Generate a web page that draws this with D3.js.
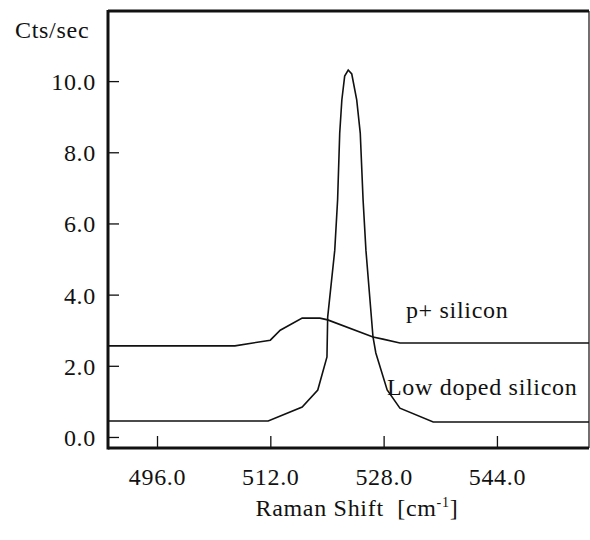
<!DOCTYPE html>
<html>
<head>
<meta charset="utf-8">
<script src="https://cdn.jsdelivr.net/npm/d3@7"></script>
<style>
  body { margin: 0; background: #fff; }
</style>
</head>
<body>
<svg class="rs-chart"></svg>
<script>
// raman spectra, two samples
const lowDopedShift = [489.1, 511.7, 516.5, 518.7, 520.0, 520.1, 521.1, 521.5, 521.8, 522.1, 522.5, 523.0, 523.5, 524.2, 524.7, 525.1, 525.5, 526.5, 526.9, 528.5, 530.3, 535.0, 557.0];
const lowDopedCts   = [0.45, 0.45, 0.84, 1.32, 2.25, 3.37, 5.25, 6.66, 8.54, 9.47, 10.14, 10.31, 10.2, 9.47, 8.54, 6.66, 5.25, 2.81, 2.36, 1.32, 0.81, 0.42, 0.42];

const pPlusShift = [489.1, 507.0, 512.0, 513.4, 516.5, 519.0, 520.1, 526.5, 527.9, 530.3, 557.0];
const pPlusCts   = [2.56, 2.56, 2.72, 3.0, 3.34, 3.34, 3.29, 2.81, 2.75, 2.64, 2.64];

const xTicks = [496, 512, 528, 544];
const yTicks = [0, 2, 4, 6, 8, 10];
const seriesNames = ['p+ silicon', 'Low doped silicon'];

const FONT = "'Liberation Serif', 'DejaVu Serif', serif";

let margin = {top: 11, right: 1, bottom: 92, left: 108},
  width = 590 - margin.left - margin.right,
  height = 540 - margin.top - margin.bottom;

let svg = d3.select('.rs-chart')
  .attr('width', 590)
  .attr('height', 540)
  .append('g')
  .attr('transform', 'translate(' + margin.left + ',' + margin.top + ')');

let x = d3.scaleLinear().domain([489.08, 557.0]).range([0, width]);
let y = d3.scaleLinear().domain([-0.31, 11.97]).range([height, 0]);

// axes, ticks point inward like the original
let xAxis = svg.append('g')
  .attr('transform', 'translate(0,' + height + ')')
  .call(d3.axisBottom(x).tickValues(xTicks).tickFormat(d3.format('.1f')).tickSizeInner(-12).tickSizeOuter(0));
xAxis.selectAll('text').attr('y', 37).attr('dy', 0);

let yAxis = svg.append('g')
  .call(d3.axisLeft(y).tickValues(yTicks).tickFormat(d3.format('.1f')).tickSizeInner(-11).tickSizeOuter(0));
yAxis.selectAll('text').attr('x', -12).attr('dy', '0.35em');

svg.selectAll('.domain').remove();
svg.selectAll('.tick line').attr('stroke', '#111').attr('stroke-width', 1.3);

// frame: heavy left/top/bottom, thin right
svg.append('line').attr('x1', 0).attr('x2', 0).attr('y1', -1).attr('y2', height + 1.5)
  .attr('stroke', '#111').attr('stroke-width', 3);
svg.append('line').attr('x1', 0).attr('x2', width).attr('y1', 0).attr('y2', 0)
  .attr('stroke', '#111').attr('stroke-width', 3);
svg.append('line').attr('x1', 0).attr('x2', width).attr('y1', height).attr('y2', height)
  .attr('stroke', '#111').attr('stroke-width', 3);
svg.append('line').attr('x1', width).attr('x2', width).attr('y1', 0).attr('y2', height)
  .attr('stroke', '#111').attr('stroke-width', 1.2);

let line = d3.line().x(d => x(d[0])).y(d => y(d[1]));

svg.append('path')
  .datum(d3.zip(pPlusShift, pPlusCts))
  .attr('fill', 'none').attr('stroke', '#111').attr('stroke-width', 1.6)
  .attr('d', line);

svg.append('path')
  .datum(d3.zip(lowDopedShift, lowDopedCts))
  .attr('fill', 'none').attr('stroke', '#111').attr('stroke-width', 1.6)
  .attr('d', line);

// series labels
svg.append('text').attr('x', x(531.15)).attr('y', y(3.34)).text(seriesNames[0]);
svg.append('text').attr('x', x(528.47)).attr('y', y(1.18)).text(seriesNames[1]);

// axis titles
svg.append('text').attr('x', -93).attr('y', 27).text('Cts/sec');

let xt = svg.append('text').attr('x', x(509.9)).attr('y', height + 68);
xt.append('tspan').text('Raman Shift\u00a0\u00a0[cm');
xt.append('tspan').attr('dy', -9).style('font-size', '14px').text('-1');
xt.append('tspan').attr('dy', 9).text(']');

// one font for every label; the scan is a little wider than Times, so add spacing
d3.selectAll('.rs-chart text')
  .attr('font-family', null)
  .style('font-family', FONT)
  .style('fill', '#111')
  .style('letter-spacing', '0.7px');
d3.selectAll('.rs-chart text').filter(function () { return !this.style.fontSize; })
  .style('font-size', '24px');
d3.selectAll('.rs-chart g').attr('font-family', null).attr('font-size', null);
</script>
</body>
</html>
